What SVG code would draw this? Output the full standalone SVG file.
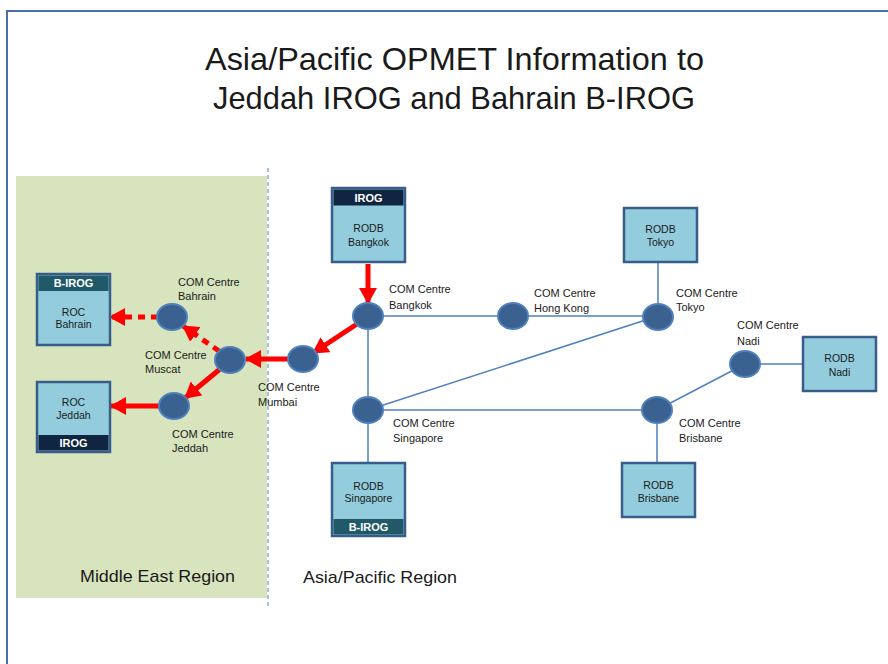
<svg xmlns="http://www.w3.org/2000/svg" width="888" height="664" viewBox="0 0 888 664">
<defs>
<style>
.t{font-family:"Liberation Sans",Arial,sans-serif;fill:#1a1a1a}
.title{font-size:31.5px;text-anchor:middle}
.lbl{font-size:11px}
.bx{font-size:10.5px;text-anchor:middle}
.hd{font-size:11px;font-weight:bold;fill:#ffffff;text-anchor:middle}
.reg{font-size:17px}
.box{fill:#93cddd;stroke:#385d8a;stroke-width:2.5}
.navy{fill:#10253f}
.teal{fill:#215968}
.com{fill:#3a6190;stroke:#4f81bd;stroke-width:2}
.ln{stroke:#4f81bd;stroke-width:1.5;fill:none}
.ar{stroke:#ff0000;stroke-width:5;fill:none;marker-end:url(#ah)}
.dot{stroke-dasharray:7 6}
</style>
<marker id="ah" markerUnits="userSpaceOnUse" markerWidth="16" markerHeight="18" viewBox="0 0 16 18" refX="15" refY="9" orient="auto">
<path d="M0,0 L16,9 L0,18 z" fill="#ff0000"/>
</marker>
</defs>
<rect width="888" height="664" fill="#ffffff"/>
<path d="M7,664 V11 H888" fill="none" stroke="#4a6fa5" stroke-width="2"/>
<rect x="16" y="176" width="251" height="422" fill="#d7e4bd"/>
<line x1="268" y1="168" x2="268" y2="606" stroke="#4f81bd" stroke-width="1" stroke-dasharray="4 3"/>
<text class="t title" x="454.5" y="70" textLength="499" lengthAdjust="spacingAndGlyphs">Asia/Pacific OPMET Information to</text>
<text class="t title" x="454" y="109" textLength="482" lengthAdjust="spacingAndGlyphs">Jeddah IROG and Bahrain B-IROG</text>
<text class="t reg" x="80" y="582" textLength="155" lengthAdjust="spacingAndGlyphs">Middle East Region</text>
<text class="t reg" x="303" y="583" textLength="154" lengthAdjust="spacingAndGlyphs">Asia/Pacific Region</text>
<g id="connectors">
<line class="ln" x1="368" y1="316" x2="513" y2="316"/>
<line class="ln" x1="513" y1="316" x2="658" y2="316"/>
<line class="ln" x1="658" y1="263" x2="658" y2="316"/>
<line class="ln" x1="368" y1="316" x2="368" y2="410"/>
<line class="ln" x1="368" y1="410" x2="658" y2="316"/>
<line class="ln" x1="368" y1="410" x2="657" y2="410"/>
<line class="ln" x1="657" y1="410" x2="745" y2="364"/>
<line class="ln" x1="745" y1="364" x2="803" y2="364"/>
<line class="ln" x1="657" y1="410" x2="657" y2="463"/>
<line class="ln" x1="368" y1="410" x2="368" y2="463"/>
<line class="ar" x1="368" y1="264" x2="368" y2="303"/>
<line class="ar" x1="357" y1="324" x2="313" y2="353"/>
<line class="ar" x1="289" y1="359" x2="246" y2="359"/>
<line class="ar" x1="220" y1="369" x2="185" y2="398"/>
<line class="ar" x1="159" y1="406" x2="111" y2="406"/>
<line class="ar dot" x1="219" y1="351" x2="183" y2="326"/>
<line class="ar dot" x1="158" y1="317" x2="110" y2="317"/>
</g>
<g id="rodb-bangkok">
<rect class="box" x="332" y="188" width="73" height="74"/>
<rect class="navy" x="333.5" y="189.5" width="70" height="16"/>
<text class="t hd" x="368.5" y="201.5">IROG</text>
<text class="t bx" x="368.5" y="232">RODB</text>
<text class="t bx" x="368.5" y="246">Bangkok</text>
</g>
<g id="rodb-tokyo">
<rect class="box" x="624" y="208" width="73" height="54"/>
<text class="t bx" x="660.5" y="233">RODB</text>
<text class="t bx" x="660.5" y="246">Tokyo</text>
</g>
<g id="rodb-nadi">
<rect class="box" x="803" y="337" width="73" height="54"/>
<text class="t bx" x="839.5" y="362">RODB</text>
<text class="t bx" x="839.5" y="376">Nadi</text>
</g>
<g id="rodb-brisbane">
<rect class="box" x="622" y="463" width="73" height="54"/>
<text class="t bx" x="658.5" y="489">RODB</text>
<text class="t bx" x="658.5" y="502">Brisbane</text>
</g>
<g id="rodb-singapore">
<rect class="box" x="332" y="463" width="73" height="73"/>
<rect class="teal" x="333.5" y="519" width="70" height="15.5"/>
<text class="t hd" x="368.5" y="531">B-IROG</text>
<text class="t bx" x="368.5" y="490">RODB</text>
<text class="t bx" x="368.5" y="502">Singapore</text>
</g>
<g id="roc-bahrain">
<rect class="box" x="37" y="274" width="73" height="71"/>
<rect class="teal" x="38.5" y="275.5" width="70" height="15.5"/>
<text class="t hd" x="73.5" y="286.5">B-IROG</text>
<text class="t bx" x="73.5" y="316">ROC</text>
<text class="t bx" x="73.5" y="328">Bahrain</text>
</g>
<g id="roc-jeddah">
<rect class="box" x="37" y="382" width="73" height="70"/>
<rect class="navy" x="38.5" y="435" width="70" height="15.5"/>
<text class="t hd" x="73.5" y="447">IROG</text>
<text class="t bx" x="73.5" y="406">ROC</text>
<text class="t bx" x="73.5" y="419">Jeddah</text>
</g>
<g id="com-bangkok">
<ellipse class="com" cx="368" cy="316" rx="15" ry="13"/>
<text class="t lbl" x="389" y="293">COM Centre</text>
<text class="t lbl" x="389" y="309">Bangkok</text>
</g>
<g id="com-hongkong">
<ellipse class="com" cx="513" cy="316" rx="15" ry="13"/>
<text class="t lbl" x="534" y="297">COM Centre</text>
<text class="t lbl" x="534" y="312">Hong Kong</text>
</g>
<g id="com-tokyo">
<ellipse class="com" cx="658" cy="317" rx="15" ry="13"/>
<text class="t lbl" x="676" y="297">COM Centre</text>
<text class="t lbl" x="676" y="311">Tokyo</text>
</g>
<g id="com-nadi">
<ellipse class="com" cx="745" cy="364" rx="15" ry="13"/>
<text class="t lbl" x="737" y="329">COM Centre</text>
<text class="t lbl" x="737" y="345">Nadi</text>
</g>
<g id="com-brisbane">
<ellipse class="com" cx="657" cy="410" rx="15" ry="13"/>
<text class="t lbl" x="679" y="427">COM Centre</text>
<text class="t lbl" x="679" y="442">Brisbane</text>
</g>
<g id="com-singapore">
<ellipse class="com" cx="368" cy="410" rx="15" ry="13"/>
<text class="t lbl" x="393" y="427">COM Centre</text>
<text class="t lbl" x="393" y="442">Singapore</text>
</g>
<g id="com-mumbai">
<ellipse class="com" cx="303" cy="359" rx="15" ry="13"/>
<text class="t lbl" x="258" y="391">COM Centre</text>
<text class="t lbl" x="258" y="406">Mumbai</text>
</g>
<g id="com-muscat">
<ellipse class="com" cx="230" cy="360" rx="15" ry="13"/>
<text class="t lbl" x="145" y="359">COM Centre</text>
<text class="t lbl" x="145" y="373">Muscat</text>
</g>
<g id="com-bahrain">
<ellipse class="com" cx="172" cy="317" rx="15" ry="13"/>
<text class="t lbl" x="178" y="286">COM Centre</text>
<text class="t lbl" x="178" y="300">Bahrain</text>
</g>
<g id="com-jeddah">
<ellipse class="com" cx="174" cy="406" rx="15" ry="13"/>
<text class="t lbl" x="172" y="438">COM Centre</text>
<text class="t lbl" x="172" y="452">Jeddah</text>
</g>
</svg>
